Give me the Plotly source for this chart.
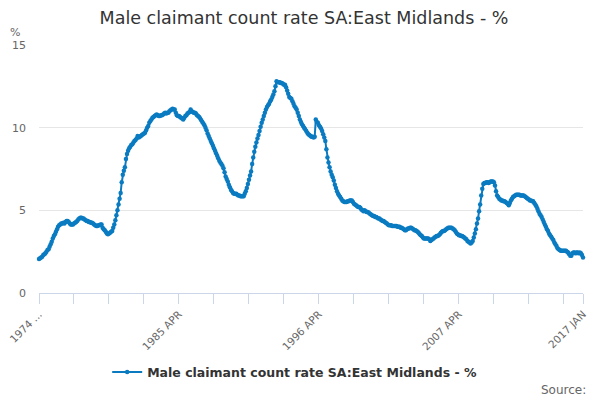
import plotly.graph_objects as go

# monthly values, 1974 APR .. 2017 JAN
rate_1974 = [2.05, 2.1, 2.15, 2.2, 2.3, 2.35, 2.4, 2.5, 2.6]
rate_1975 = [2.65, 2.8, 2.95, 3.1, 3.3, 3.45, 3.55, 3.7, 3.85, 4.0, 4.1, 4.15]
rate_1976 = [4.2, 4.2, 4.25, 4.2, 4.3, 4.35, 4.35, 4.3, 4.2, 4.15, 4.15, 4.15]
rate_1977 = [4.2, 4.25, 4.3, 4.35, 4.45, 4.5, 4.55, 4.55, 4.5, 4.5, 4.45, 4.4]
rate_1978 = [4.35, 4.35, 4.3, 4.3, 4.25, 4.25, 4.2, 4.15, 4.1, 4.05, 4.05, 4.1]
rate_1979 = [4.1, 4.15, 4.15, 3.95, 3.85, 3.8, 3.7, 3.6, 3.55, 3.6, 3.65, 3.7]
rate_1980 = [3.75, 3.95, 4.15, 4.4, 4.7, 5.0, 5.35, 5.7, 6.05, 6.7, 7.15, 7.4]
rate_1981 = [7.6, 8.1, 8.4, 8.6, 8.75, 8.85, 8.95, 9.0, 9.1, 9.2, 9.25, 9.35]
rate_1982 = [9.5, 9.4, 9.45, 9.5, 9.55, 9.6, 9.65, 9.7, 9.85, 10.0, 10.1, 10.3]
rate_1983 = [10.4, 10.5, 10.6, 10.65, 10.7, 10.75, 10.8, 10.75, 10.7, 10.7, 10.75, 10.75]
rate_1984 = [10.8, 10.85, 10.9, 10.85, 10.9, 10.9, 11.0, 11.05, 11.1, 11.15, 11.1, 11.1]
rate_1985 = [10.9, 10.75, 10.7, 10.7, 10.65, 10.6, 10.55, 10.5, 10.6, 10.7, 10.75, 10.85]
rate_1986 = [10.9, 10.95, 11.1, 11.0, 10.95, 10.9, 10.9, 10.85, 10.75, 10.7, 10.65, 10.55]
rate_1987 = [10.45, 10.35, 10.25, 10.15, 10.0, 9.85, 9.65, 9.5, 9.35, 9.2, 9.05, 8.9]
rate_1988 = [8.75, 8.6, 8.45, 8.3, 8.15, 8.0, 7.9, 7.8, 7.7, 7.55, 7.3, 7.05]
rate_1989 = [6.9, 6.75, 6.55, 6.4, 6.25, 6.15, 6.05, 6.0, 6.0, 6.0, 5.95, 5.9]
rate_1990 = [5.9, 5.85, 5.85, 5.85, 5.85, 6.0, 6.15, 6.35, 6.6, 6.85, 7.1, 7.35]
rate_1991 = [7.8, 8.2, 8.55, 8.85, 9.1, 9.35, 9.55, 9.8, 10.05, 10.3, 10.5, 10.7]
rate_1992 = [10.9, 11.1, 11.25, 11.35, 11.45, 11.6, 11.7, 11.85, 12.0, 12.2, 12.5, 12.8]
rate_1993 = [12.75, 12.75, 12.75, 12.7, 12.7, 12.65, 12.6, 12.6, 12.45, 12.25, 12.05, 11.85]
rate_1994 = [11.8, 11.75, 11.6, 11.45, 11.3, 11.2, 11.1, 10.9, 10.7, 10.5, 10.35, 10.2]
rate_1995 = [10.1, 10.0, 9.9, 9.8, 9.7, 9.6, 9.55, 9.5, 9.45, 9.45, 9.4, 9.45]
rate_1996 = [10.5, 10.35, 10.3, 10.15, 10.05, 9.95, 9.8, 9.6, 9.4, 9.2, 8.7, 8.2]
rate_1997 = [7.9, 7.6, 7.35, 7.15, 7.0, 6.8, 6.55, 6.35, 6.15, 6.0, 5.9, 5.8]
rate_1998 = [5.7, 5.6, 5.55, 5.5, 5.5, 5.5, 5.55, 5.55, 5.6, 5.6, 5.6, 5.5]
rate_1999 = [5.4, 5.35, 5.3, 5.25, 5.2, 5.2, 5.15, 5.05, 5.0, 4.95, 5.0, 4.95]
rate_2000 = [4.9, 4.9, 4.85, 4.8, 4.75, 4.7, 4.65, 4.65, 4.6, 4.6, 4.55, 4.5]
rate_2001 = [4.5, 4.45, 4.4, 4.35, 4.35, 4.3, 4.25, 4.2, 4.15, 4.1, 4.1, 4.1]
rate_2002 = [4.05, 4.05, 4.05, 4.05, 4.05, 4.0, 4.0, 4.0, 3.95, 3.95, 3.9, 3.85]
rate_2003 = [3.8, 3.8, 3.85, 3.9, 3.9, 3.95, 3.95, 3.9, 3.85, 3.8, 3.8, 3.75]
rate_2004 = [3.7, 3.65, 3.55, 3.5, 3.45, 3.35, 3.3, 3.3, 3.3, 3.3, 3.3, 3.25]
rate_2005 = [3.15, 3.2, 3.25, 3.3, 3.35, 3.4, 3.45, 3.45, 3.5, 3.55, 3.65, 3.7]
rate_2006 = [3.75, 3.75, 3.8, 3.85, 3.9, 3.95, 3.95, 3.95, 3.95, 3.9, 3.85, 3.8]
rate_2007 = [3.7, 3.6, 3.55, 3.5, 3.5, 3.45, 3.45, 3.4, 3.35, 3.3, 3.25, 3.15]
rate_2008 = [3.1, 3.05, 3.0, 3.05, 3.15, 3.35, 3.6, 3.85, 4.2, 4.5, 4.95, 5.35]
rate_2009 = [5.9, 6.3, 6.6, 6.65, 6.65, 6.7, 6.7, 6.65, 6.7, 6.75, 6.75, 6.75]
rate_2010 = [6.7, 6.5, 6.15, 5.9, 5.8, 5.7, 5.65, 5.6, 5.6, 5.55, 5.55, 5.5]
rate_2011 = [5.45, 5.4, 5.3, 5.45, 5.6, 5.7, 5.8, 5.85, 5.9, 5.95, 5.95, 5.95]
rate_2012 = [5.95, 5.9, 5.9, 5.9, 5.9, 5.85, 5.8, 5.75, 5.7, 5.65, 5.6, 5.6]
rate_2013 = [5.55, 5.55, 5.45, 5.35, 5.25, 5.1, 4.95, 4.8, 4.7, 4.6, 4.45, 4.3]
rate_2014 = [4.15, 4.0, 3.85, 3.75, 3.6, 3.5, 3.4, 3.3, 3.2, 3.05, 2.95, 2.85]
rate_2015 = [2.7, 2.65, 2.6, 2.55, 2.55, 2.55, 2.55, 2.55, 2.55, 2.5, 2.45, 2.35]
rate_2016 = [2.25, 2.25, 2.4, 2.45, 2.45, 2.4, 2.45, 2.45, 2.4, 2.45, 2.4, 2.3]
rate_2017 = [2.15]

months = ["JAN", "FEB", "MAR", "APR", "MAY", "JUN",
          "JUL", "AUG", "SEP", "OCT", "NOV", "DEC"]

yearly = [rate_1974, rate_1975, rate_1976, rate_1977, rate_1978, rate_1979,
          rate_1980, rate_1981, rate_1982, rate_1983, rate_1984, rate_1985,
          rate_1986, rate_1987, rate_1988, rate_1989, rate_1990, rate_1991,
          rate_1992, rate_1993, rate_1994, rate_1995, rate_1996, rate_1997,
          rate_1998, rate_1999, rate_2000, rate_2001, rate_2002, rate_2003,
          rate_2004, rate_2005, rate_2006, rate_2007, rate_2008, rate_2009,
          rate_2010, rate_2011, rate_2012, rate_2013, rate_2014, rate_2015,
          rate_2016, rate_2017]

# build category labels + values
labels = []
values = []
for i, row in enumerate(yearly):
    year = 1974 + i
    start = 3 if year == 1974 else 0
    for j, v in enumerate(row):
        labels.append(f"{year} {months[start + j]}")
        values.append(v)

# tick every 33 months, label every 4th tick, plus the last month
tick_step = 33
tickvals = []
ticktext = []
for k in range(0, len(labels), tick_step):
    tickvals.append(labels[k])
    if k % (tick_step * 4) == 0:
        ticktext.append("1974 ..." if k == 0 else labels[k])
    else:
        ticktext.append("")
tickvals.append(labels[-1])
ticktext.append(labels[-1])

blue = "#0a7bc1"
grey = "#666666"

fig = go.Figure()
fig.add_trace(go.Scatter(
    x=labels, y=values, mode="lines+markers",
    name="<b>Male claimant count rate SA:East Midlands - %</b>",
    line=dict(color=blue, width=2),
    marker=dict(color=blue, size=4.5),
    cliponaxis=False,
))

# page body has an 8px margin, so the figure is 8px smaller than the window
fig.update_layout(
    width=592, height=392,
    margin=dict(l=31, r=17, t=37, b=107),
    paper_bgcolor="white", plot_bgcolor="white",
    font=dict(family="DejaVu Sans", color=grey, size=11),
    title=dict(text="Male claimant count rate SA:East Midlands - %",
               x=0.5, xanchor="center", y=0.974, yanchor="middle",
               font=dict(size=17.5, color="#333333")),
    showlegend=True,
    legend=dict(orientation="h", x=0.47, xanchor="center", y=-0.32,
                yanchor="middle", font=dict(size=12.5, color="#333333")),
)

fig.update_xaxes(
    type="category", range=[0, len(labels) - 1], automargin=False,
    tickmode="array", tickvals=tickvals, ticktext=ticktext,
    tickangle=-45, ticks="outside", ticklen=10, tickcolor="#ccd6eb",
    showline=True, linecolor="#ccd6eb", linewidth=1,
    showgrid=False, zeroline=False,
    tickfont=dict(size=10.5, color=grey),
)
fig.update_yaxes(
    range=[0, 15], tickvals=[0, 5, 10, 15], automargin=False,
    showgrid=True, gridcolor="#e6e6e6", zeroline=False, showline=False,
    ticklabelstandoff=12,
    tickfont=dict(size=11, color=grey),
)

fig.add_annotation(text="%", xref="paper", yref="paper", x=-0.044, y=1.052,
                   xanchor="center", yanchor="middle",
                   showarrow=False, font=dict(size=11, color=grey))
fig.add_annotation(text="Source:", xref="paper", yref="paper", x=1.009,
                   y=-0.391, xanchor="right", yanchor="middle",
                   showarrow=False, font=dict(size=12, color=grey))

fig.write_html("out.html")
